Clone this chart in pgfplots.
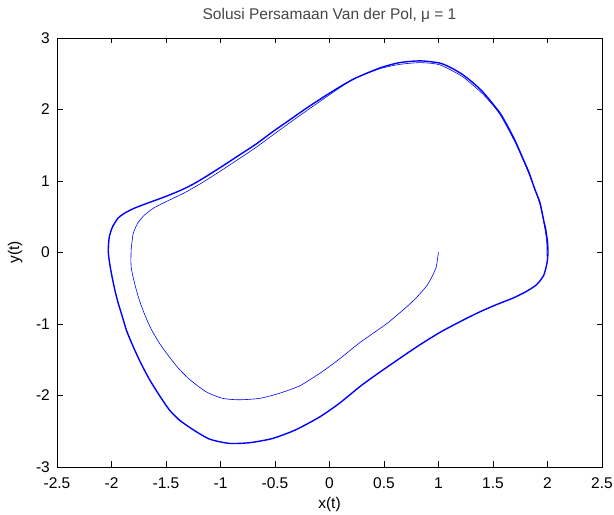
\documentclass[border=0pt]{standalone}
\usepackage{pgfplots}
\pgfplotsset{compat=1.18}
\usepackage{fontspec}
\setmainfont{Liberation Sans}
\definecolor{mblue}{RGB}{0,0,255}
\definecolor{ttlgray}{RGB}{70,70,70}
\begin{document}
\begin{tikzpicture}[font=\fontsize{15.5bp}{18bp}\selectfont]
\begin{axis}[
  scale only axis, width=545bp, height=429bp,
  xmin=-2.5, xmax=2.5, ymin=-3, ymax=3,
  xtick={-2.5,-2,-1.5,-1,-0.5,0,0.5,1,1.5,2,2.5},
  xticklabels={-2.5,-2,-1.5,-1,-0.5,0,0.5,1,1.5,2,2.5},
  ytick={-3,-2,-1,0,1,2,3},
  yticklabels={-3,-2,-1,0,1,2,3},
  tick align=inside, major tick length=5.5bp,
  axis line style={line width=0.9pt},
  tick style={black, line width=0.6pt},
  xticklabel style={anchor=base, inner sep=0pt, yshift=-21.5bp},
  yticklabel style={anchor=east, inner sep=0pt, xshift=-7bp},
  xlabel={x(t)}, ylabel={y(t)},
  xlabel style={at={(axis description cs:0.5,0)}, anchor=base, inner sep=0pt, yshift=-42bp},
  ylabel style={at={(axis description cs:0,0.5)}, anchor=center, inner sep=0pt, yshift=42bp},
  title={Solusi Persamaan Van der Pol, μ = 1},
  title style={at={(axis description cs:0.5,1)}, anchor=base, inner sep=0pt, yshift=13bp, text=ttlgray},
]
% transient part of the trajectory (starts at (1,0))
\addplot[mblue, line width=0.6pt, smooth, tension=0.4, line join=round] coordinates {
(1.00,0.00) (0.99,-0.10) (0.98,-0.20) (0.94,-0.34) (0.89,-0.47) (0.81,-0.61)
(0.73,-0.73) (0.64,-0.85) (0.53,-0.99) (0.40,-1.13) (0.27,-1.27) (0.14,-1.43)
(0.03,-1.56) (-0.06,-1.66) (-0.17,-1.77) (-0.28,-1.87) (-0.46,-1.97) (-0.64,-2.04)
(-0.83,-2.06) (-0.98,-2.04) (-1.13,-1.95) (-1.28,-1.78) (-1.38,-1.63) (-1.47,-1.46)
(-1.56,-1.27) (-1.64,-1.06) (-1.70,-0.85) (-1.75,-0.64) (-1.79,-0.42) (-1.82,-0.20)
(-1.82,0.03) (-1.81,0.17) (-1.80,0.27) (-1.76,0.41) (-1.70,0.52) (-1.61,0.625)
(-1.48,0.725) (-1.33,0.835) (-1.17,0.975) (-1.01,1.13) (-0.83,1.31) (-0.67,1.475)
(-0.50,1.665) (-0.31,1.875) (-0.10,2.10) (0.09,2.30) (0.24,2.44) (0.46,2.57)
(0.64,2.63) (0.83,2.655) (1.01,2.625) (1.22,2.46) (1.41,2.21) (1.56,1.94)
(1.71,1.52) (1.83,1.10) (1.93,0.68) (1.98,0.30) (1.995,0.10) (1.995,-0.05)
};
% limit cycle (several overlapping passes)
\addplot[mblue, line width=1.4pt, smooth, tension=0.4, line join=round] coordinates {
(2.005,0.00) (1.995,-0.15) (1.965,-0.32) (1.90,-0.45) (1.80,-0.55) (1.68,-0.64)
(1.53,-0.73) (1.38,-0.83) (1.22,-0.95) (1.01,-1.12) (0.80,-1.32) (0.55,-1.58)
(0.40,-1.74) (0.275,-1.88) (0.09,-2.11) (-0.09,-2.30) (-0.31,-2.48) (-0.52,-2.60)
(-0.73,-2.66) (-0.92,-2.67) (-1.10,-2.61) (-1.25,-2.48) (-1.38,-2.34) (-1.47,-2.20)
(-1.56,-2.00) (-1.65,-1.78) (-1.73,-1.55) (-1.80,-1.32) (-1.86,-1.10) (-1.90,-0.90)
(-1.94,-0.70) (-1.97,-0.52) (-2.00,-0.30) (-2.02,-0.12) (-2.03,0.03) (-2.02,0.22)
(-1.99,0.36) (-1.94,0.48) (-1.88,0.55) (-1.79,0.62) (-1.67,0.69) (-1.50,0.785)
(-1.35,0.88) (-1.24,0.965) (-1.13,1.065) (-0.98,1.21) (-0.83,1.36) (-0.67,1.52)
(-0.52,1.69) (-0.36,1.86) (-0.21,2.02) (-0.05,2.18) (0.12,2.34) (0.24,2.44)
(0.46,2.58) (0.64,2.655) (0.83,2.68) (1.01,2.65) (1.12,2.58) (1.22,2.49)
(1.32,2.37) (1.41,2.24) (1.56,1.96) (1.64,1.75) (1.71,1.54) (1.77,1.33)
(1.83,1.12) (1.88,0.90) (1.93,0.70) (1.965,0.45) (1.985,0.31) (2.00,0.15) (2.005,0.00)
};
\end{axis}
\pgfresetboundingbox
\path[use as bounding box] ([xshift=-57bp,yshift=-48bp]current axis.south west) rectangle ([xshift=12bp,yshift=38bp]current axis.north east);
\end{tikzpicture}
\end{document}
